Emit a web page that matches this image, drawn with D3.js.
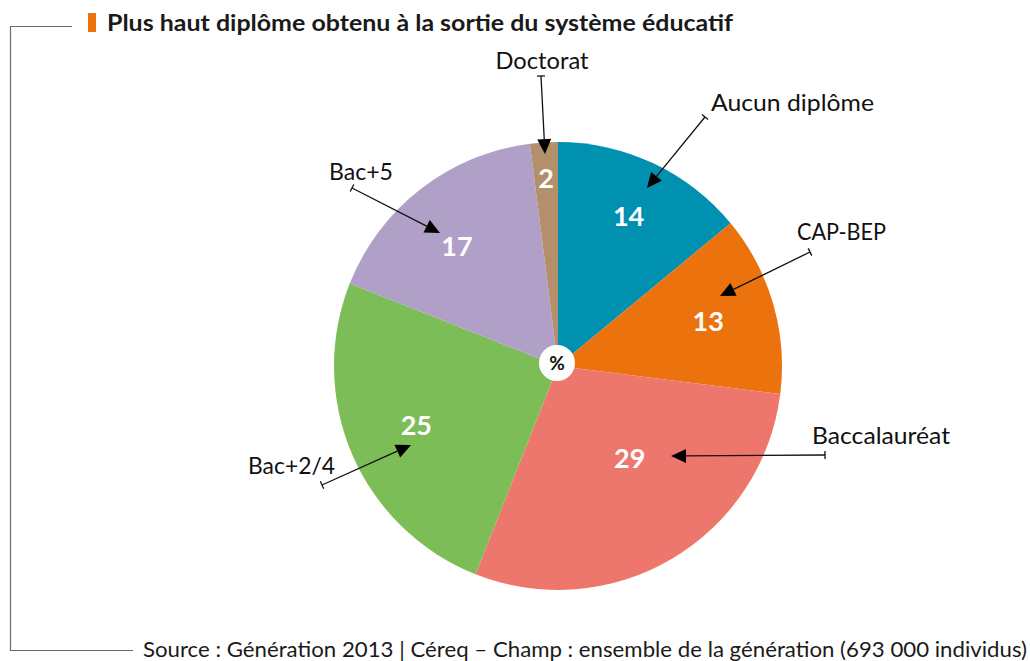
<!DOCTYPE html>
<html>
<head>
<meta charset="utf-8">
<script src="https://cdn.jsdelivr.net/npm/d3@7"></script>
<style>
  body { margin: 0; background: #fff; }
  svg text { font-family: Lato, "Open Sans", sans-serif; }
</style>
</head>
<body>
<div id="vis"></div>
<script>
// Data (percent, clockwise from 12 o'clock)
var categories = ['Aucun diplôme', 'CAP-BEP', 'Baccalauréat', 'Bac+2/4', 'Bac+5', 'Doctorat'];
var values = [14, 13, 29, 25, 17, 2];
var colors = ['#0091b1', '#ec720d', '#ee776d', '#7dbd57', '#b09fc7', '#b48f6b'];

var title = 'Plus haut diplôme obtenu à la sortie du système éducatif';
var source = 'Source : Génération 2013 | Céreq – Champ : ensemble de la génération (693 000 individus)';

// Layout of the callouts (offsets from pie centre, label widths, value label radius/angle shift)
var callouts = {
    'Aucun diplôme': { tail: [147, -249], tip: [89, -178], text: [153, -255], anchor: 'start', w: 163, lr: 0.74, da: 0 },
    'CAP-BEP':       { tail: [252, -114], tip: [162, -70], text: [239, -126], anchor: 'start', w: 89, lr: 0.70, da: -0.5 },
    'Baccalauréat':  { tail: [267, 89],   tip: [113, 90],  text: [254, 78],   anchor: 'start', w: 138, lr: 0.52, da: -7.4 },
    'Bac+2/4':       { tail: [-236, 119], tip: [-147, 79], text: [-223, 108], anchor: 'end',   w: 87, lr: 0.685, da: 0.8 },
    'Bac+5':         { tail: [-206, -178], tip: [-118, -133], text: [-229, -186], anchor: 'start', w: 64, lr: 0.70, da: -2.3 },
    'Doctorat':      { tail: [-17, -290], tip: [-13, -212], text: [-16, -297], anchor: 'middle', w: 93, lr: 0.84, da: 0 }
};

var width = 1030, height = 661;
var cx = 558, cy = 366, radius = 224;

var svg = d3.select('#vis').append('svg')
    .attr('width', width)
    .attr('height', height);

// Bracket frame on the left
svg.append('path')
    .attr('d', 'M72,26.5 H10.5 V650.5 H133')
    .attr('fill', 'none')
    .attr('stroke', '#6b6b6b')
    .attr('stroke-width', 1.2);

// Title with orange marker
svg.append('rect')
    .attr('x', 88).attr('y', 13)
    .attr('width', 8).attr('height', 19)
    .attr('fill', '#ec720d');
svg.append('text')
    .attr('x', 107).attr('y', 31)
    .attr('font-size', 22)
    .attr('font-weight', 'bold')
    .attr('fill', '#1a1a1a')
    .attr('textLength', 626)
    .attr('lengthAdjust', 'spacingAndGlyphs')
    .text(title);

// Source line
svg.append('text')
    .attr('x', 143).attr('y', 657)
    .attr('font-size', 20.5)
    .attr('fill', '#1a1a1a')
    .attr('textLength', 884)
    .attr('lengthAdjust', 'spacingAndGlyphs')
    .text(source);

var data = categories.map(function(c, i) {
    return { name: c, value: values[i], color: colors[i] };
});

var pie = d3.pie()
    .sort(null)
    .value(function(d) { return d.value; });

var arc = d3.arc().innerRadius(0).outerRadius(radius);

var g = svg.append('g')
    .attr('transform', 'translate(' + cx + ',' + cy + ')');

var arcs = pie(data);

g.selectAll('path.slice')
    .data(arcs)
    .enter().append('path')
    .attr('class', 'slice')
    .attr('d', arc)
    .attr('fill', function(d) { return d.data.color; });

// Value labels
g.selectAll('text.val')
    .data(arcs)
    .enter().append('text')
    .attr('class', 'val')
    .attr('transform', function(d) {
        var c = callouts[d.data.name];
        var r = radius * c.lr;
        var a = (d.startAngle + d.endAngle) / 2 + c.da * Math.PI / 180;
        return 'translate(' + (Math.sin(a) * r) + ',' + (-Math.cos(a) * r) + ')';
    })
    .attr('text-anchor', 'middle')
    .attr('dy', '0.36em')
    .attr('font-size', 27)
    .attr('font-weight', 'bold')
    .attr('fill', '#fff')
    .text(function(d) { return d.data.value; });

// Centre "%" disc
g.append('circle')
    .attr('cx', -1).attr('cy', -3)
    .attr('r', 18)
    .attr('fill', '#fff');
g.append('text')
    .attr('x', -1).attr('y', -3)
    .attr('dy', '0.36em')
    .attr('text-anchor', 'middle')
    .attr('font-size', 19)
    .attr('font-weight', 'bold')
    .attr('fill', '#111')
    .text('%');

// Callout arrows and category names
var call = g.selectAll('g.callout')
    .data(arcs)
    .enter().append('g')
    .attr('class', 'callout');

call.each(function(d) {
    var c = callouts[d.data.name];
    var sel = d3.select(this);
    var x0 = c.tail[0], y0 = c.tail[1], x1 = c.tip[0], y1 = c.tip[1];
    var ang = Math.atan2(y1 - y0, x1 - x0);
    var ux = Math.cos(ang), uy = Math.sin(ang);
    var px = -uy, py = ux;
    var head = 15, half = 7;
    var bx = x1 - ux * head, by = y1 - uy * head;

    sel.append('line')
        .attr('x1', x0).attr('y1', y0)
        .attr('x2', bx).attr('y2', by)
        .attr('stroke', '#111')
        .attr('stroke-width', 1.3);
    // small tick at the tail
    sel.append('line')
        .attr('x1', x0 + px * 4).attr('y1', y0 + py * 4)
        .attr('x2', x0 - px * 4).attr('y2', y0 - py * 4)
        .attr('stroke', '#111')
        .attr('stroke-width', 1.3);
    // arrow head
    sel.append('path')
        .attr('d', 'M' + x1 + ',' + y1 +
            'L' + (bx + px * half) + ',' + (by + py * half) +
            'L' + (bx - px * half) + ',' + (by - py * half) + 'Z')
        .attr('fill', '#000');

    sel.append('text')
        .attr('x', c.text[0]).attr('y', c.text[1])
        .attr('text-anchor', c.anchor)
        .attr('font-size', 22.5)
        .attr('fill', '#111')
        .attr('textLength', c.w)
        .attr('lengthAdjust', 'spacingAndGlyphs')
        .text(d.data.name);
});
</script>
</body>
</html>
